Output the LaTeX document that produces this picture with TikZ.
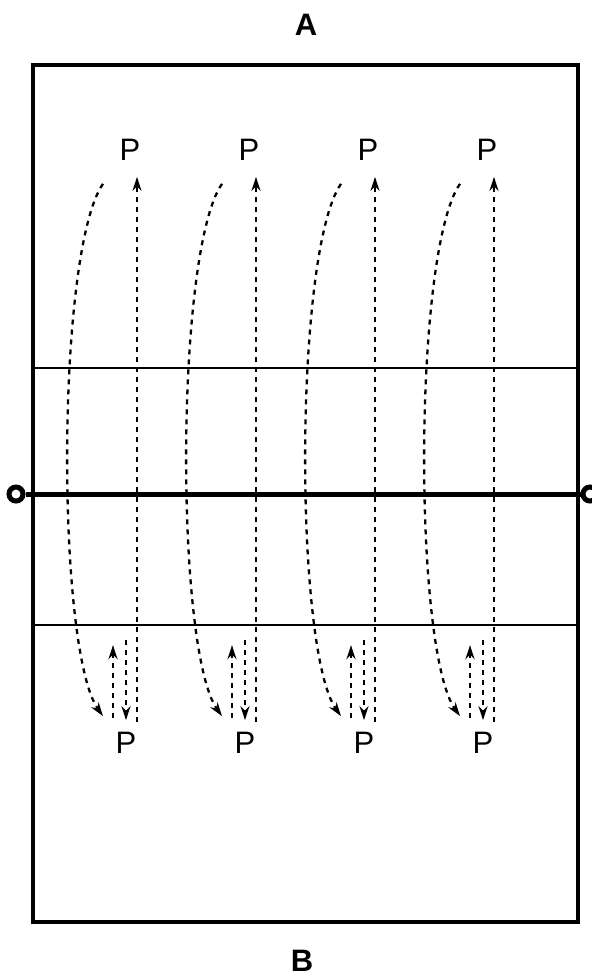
\documentclass[tikz,border=0pt]{standalone}
\usepackage{fontspec}
\setmainfont{Liberation Sans}
\usetikzlibrary{arrows.meta, positioning}

\begin{document}
\begin{tikzpicture}[
    x=1pt, y=-1pt,
    player/.style={inner sep=0pt, font=\fontsize{31}{31}\selectfont},
    side/.style={inner sep=0pt, font=\fontsize{31}{31}\selectfont\bfseries},
    post/.style={circle, draw, line width=5pt, minimum size=14pt, inner sep=0pt},
    run/.style={-{Stealth[length=14pt,width=9pt]}, dash pattern=on 5pt off 5pt,
                line width=2.3pt},
    court/.style={line width=4pt},
    attack/.style={line width=2pt},
    net/.style={line width=5pt}
]
\useasboundingbox (0,0) rectangle (592,978);

% Court
\draw[court] (33,65) rectangle (578,922);
\draw[attack] (33,368) -- (578,368);
\draw[attack] (33,625) -- (578,625);

% Net and posts
\node[post] at (16,494) (postL) {};
\node[post] at (590,494) (postR) {};
\draw[net] (postL) -- (postR);

% Ends of the court
\node[side] at (306,25) (sideA) {A};
\node[side] at (302,961) (sideB) {B};

% Players at the back
\node[player] at (130,150) (pt1) {P};
\node[player] at (249,150) (pt2) {P};
\node[player] at (368,150) (pt3) {P};
\node[player] at (487,150) (pt4) {P};

% Players at the attack line
\node[player] at (126,743) (pb1) {P};
\node[player] at (245,743) (pb2) {P};
\node[player] at (364,743) (pb3) {P};
\node[player] at (483,743) (pb4) {P};

% Runs to the front
\draw[run] ([xshift=-27pt,yshift=-23pt]pt1.south) .. controls +(-47,67) and +(-47,-66) .. ([xshift=-23pt,yshift=16pt]pb1.north);
\draw[run] ([xshift=-27pt,yshift=-23pt]pt2.south) .. controls +(-47,67) and +(-47,-66) .. ([xshift=-23pt,yshift=16pt]pb2.north);
\draw[run] ([xshift=-27pt,yshift=-23pt]pt3.south) .. controls +(-47,67) and +(-47,-66) .. ([xshift=-23pt,yshift=16pt]pb3.north);
\draw[run] ([xshift=-27pt,yshift=-23pt]pt4.south) .. controls +(-47,67) and +(-47,-66) .. ([xshift=-23pt,yshift=16pt]pb4.north);

% Runs back
\draw[run] ([xshift=11pt,yshift=10pt]pb1.north) -- ([xshift=7pt,yshift=-16pt]pt1.south);
\draw[run] ([xshift=11pt,yshift=10pt]pb2.north) -- ([xshift=7pt,yshift=-16pt]pt2.south);
\draw[run] ([xshift=11pt,yshift=10pt]pb3.north) -- ([xshift=7pt,yshift=-16pt]pt3.south);
\draw[run] ([xshift=11pt,yshift=10pt]pb4.north) -- ([xshift=7pt,yshift=-16pt]pt4.south);

% Short steps at the attack line
\draw[run] ([xshift=-13pt,yshift=14pt]pb1.north) -- ([xshift=-13pt,yshift=87pt]pb1.north);
\draw[run] ([xshift=-13pt,yshift=14pt]pb2.north) -- ([xshift=-13pt,yshift=87pt]pb2.north);
\draw[run] ([xshift=-13pt,yshift=14pt]pb3.north) -- ([xshift=-13pt,yshift=87pt]pb3.north);
\draw[run] ([xshift=-13pt,yshift=14pt]pb4.north) -- ([xshift=-13pt,yshift=87pt]pb4.north);

\draw[run] ([yshift=92pt]pb1.north) -- ([yshift=12pt]pb1.north);
\draw[run] ([yshift=92pt]pb2.north) -- ([yshift=12pt]pb2.north);
\draw[run] ([yshift=92pt]pb3.north) -- ([yshift=12pt]pb3.north);
\draw[run] ([yshift=92pt]pb4.north) -- ([yshift=12pt]pb4.north);

\end{tikzpicture}
\end{document}
